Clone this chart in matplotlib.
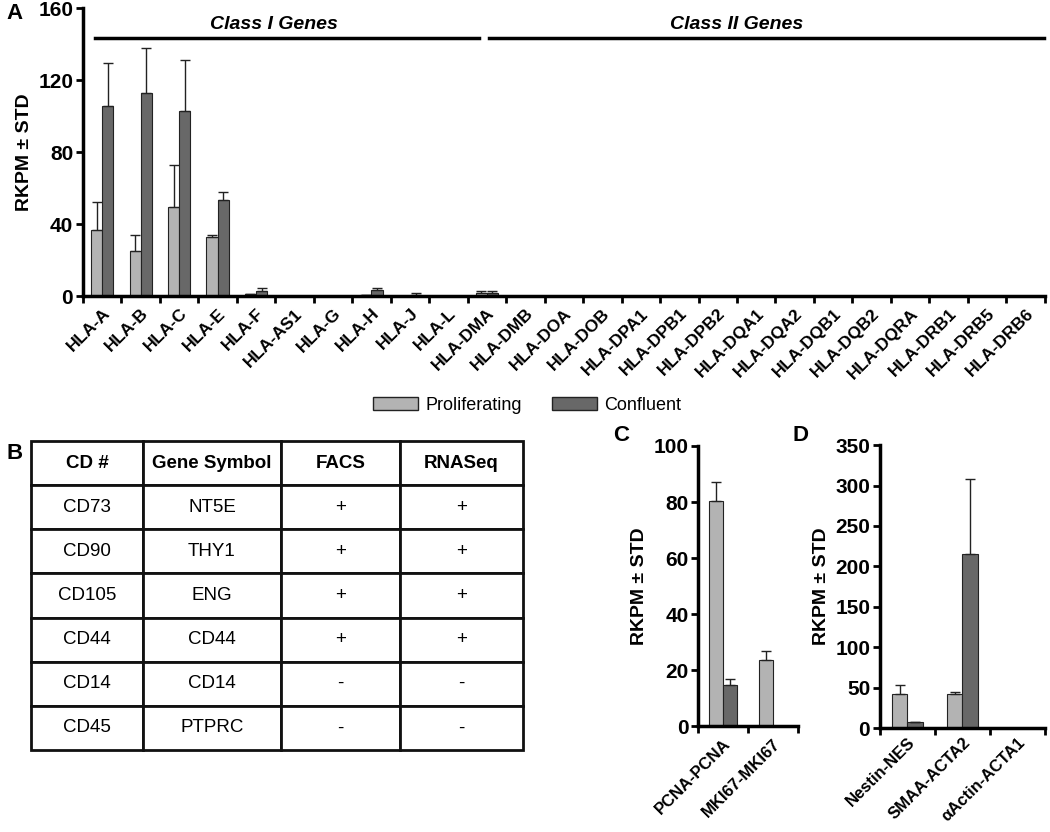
import numpy as np
import matplotlib
matplotlib.use('Agg')
import matplotlib.pyplot as plt
from matplotlib.patches import Patch

plt.rcParams['font.family'] = ['Liberation Sans', 'DejaVu Sans']

# ---- Panel A data ----
hla_genes = ['HLA-A', 'HLA-B', 'HLA-C', 'HLA-E', 'HLA-F', 'HLA-AS1', 'HLA-G', 'HLA-H',
             'HLA-J', 'HLA-L', 'HLA-DMA', 'HLA-DMB', 'HLA-DOA', 'HLA-DOB', 'HLA-DPA1',
             'HLA-DPB1', 'HLA-DPB2', 'HLA-DQA1', 'HLA-DQA2', 'HLA-DQB1', 'HLA-DQB2',
             'HLA-DQRA', 'HLA-DRB1', 'HLA-DRB5', 'HLA-DRB6']
hla_prolif = [36.7, 25.0, 49.4, 32.7, 1.1, 0, 0, 0.5, 0.3, 0, 1.5, 0, 0, 0, 0,
              0, 0, 0, 0, 0, 0, 0, 0, 0, 0]
hla_prolif_sd = [15.6, 9.0, 23.5, 1.4, 0, 0, 0, 0, 0, 0, 1.5, 0, 0, 0, 0,
                 0, 0, 0, 0, 0, 0, 0, 0, 0, 0]
hla_confl = [105.7, 112.8, 103.2, 53.2, 2.8, 0, 0, 3.3, 0.8, 0, 1.5, 0, 0, 0, 0,
             0, 0, 0, 0, 0, 0, 0, 0, 0, 0]
hla_confl_sd = [23.8, 25.2, 28.2, 4.5, 1.7, 0, 0, 1.5, 0.7, 0, 1.5, 0, 0, 0, 0,
                0, 0, 0, 0, 0, 0, 0, 0, 0, 0]

# ---- Panel B table ----
table_header = ['CD #', 'Gene Symbol', 'FACS', 'RNASeq']
cd_numbers = ['CD73', 'CD90', 'CD105', 'CD44', 'CD14', 'CD45']
gene_symbols = ['NT5E', 'THY1', 'ENG', 'CD44', 'CD14', 'PTPRC']
facs = ['+', '+', '+', '+', '-', '-']
rnaseq = ['+', '+', '+', '+', '-', '-']

# ---- Panel C data ----
c_genes = ['PCNA-PCNA', 'MKI67-MKI67']
c_prolif = [80.5, 23.5]
c_prolif_sd = [6.8, 3.5]
c_confl = [14.9, 0]
c_confl_sd = [2.0, 0]

# ---- Panel D data ----
d_genes = ['Nestin-NES', 'SMAA-ACTA2', 'αActin-ACTA1']
d_prolif = [42.4, 42.0, 0]
d_prolif_sd = [10.3, 2.0, 0]
d_confl = [7.8, 215.0, 0]
d_confl_sd = [0, 92.8, 0]

light = '#b3b3b3'
dark = '#686868'


def bar_panel(ax, labels, prolif, prolif_sd, confl, confl_sd, width, label_size, yticks):
    x = np.arange(len(labels))
    ekw = dict(ecolor='#222222', elinewidth=1, capthick=1)
    p_err = [np.zeros(len(x)), prolif_sd]
    c_err = [np.zeros(len(x)), confl_sd]
    ax.bar(x - width / 2, prolif, width, color=light, edgecolor='#222222', linewidth=0.8,
           yerr=p_err, capsize=3.5, error_kw=ekw)
    ax.bar(x + width / 2, confl, width, color=dark, edgecolor='#222222', linewidth=0.8,
           yerr=c_err, capsize=3.5, error_kw=ekw)
    ax.set_xlim(-0.5, len(labels) - 0.5)
    ax.set_ylim(yticks[0], yticks[-1])
    ax.set_yticks(yticks)
    ax.set_xticks(np.arange(len(labels) + 1) - 0.5)
    ax.set_xticklabels([])
    ax.set_xticks(x, minor=True)
    ax.set_xticklabels(labels, minor=True, rotation=45, ha='right', rotation_mode='anchor',
                       fontsize=label_size, fontweight='bold')
    ax.tick_params(axis='x', which='minor', length=0, pad=7)
    ax.tick_params(axis='x', which='major', length=5, width=2, direction='out')
    ax.tick_params(axis='y', length=5, width=2, direction='out', labelsize=15, pad=2)
    for lab in ax.get_yticklabels():
        lab.set_fontweight('bold')
    for s in ['top', 'right']:
        ax.spines[s].set_visible(False)
    for s in ['left', 'bottom']:
        ax.spines[s].set_linewidth(2.5)
    ax.set_ylabel('RKPM ± STD', fontsize=14, fontweight='bold')


fig = plt.figure(figsize=(10.5, 8.32), dpi=100)

# Panel A
axA = fig.add_axes([0.079, 0.644, 0.916, 0.346])
bar_panel(axA, hla_genes, hla_prolif, hla_prolif_sd, hla_confl, hla_confl_sd, 0.29, 12.5,
          [0, 40, 80, 120, 160])
axA.plot([-0.19, 9.79], [143.3, 143.3], color='black', lw=2.5, clip_on=False)
axA.plot([10.05, 24.49], [143.3, 143.3], color='black', lw=2.5, clip_on=False)
axA.text(4.46, 146.5, 'Class I Genes', ha='center', va='bottom', fontsize=14,
         fontweight='bold', style='italic')
axA.text(16.5, 146.5, 'Class II Genes', ha='center', va='bottom', fontsize=14,
         fontweight='bold', style='italic')

fig.legend(handles=[Patch(facecolor=light, edgecolor='#222222', label='Proliferating'),
                    Patch(facecolor=dark, edgecolor='#222222', label='Confluent')],
           loc='center', bbox_to_anchor=(0.502, 0.513), ncol=2, frameon=False,
           fontsize=13, handlelength=2.5, handleheight=0.7, handletextpad=0.4,
           columnspacing=1.65)

# Panel B table
axB = fig.add_axes([0.0295, 0.0986, 0.4686, 0.3714])
axB.axis('off')
cells = [table_header] + [list(r) for r in zip(cd_numbers, gene_symbols, facs, rnaseq)]
col_w = [112, 138, 119, 123]
col_w = [w / sum(col_w) for w in col_w]
tbl = axB.table(cellText=cells, cellLoc='center', colWidths=col_w, bbox=[0, 0, 1, 1])
tbl.auto_set_font_size(False)
for (r, c), cell in tbl.get_celld().items():
    cell.set_linewidth(2)
    cell.set_edgecolor('#111111')
    cell.get_text().set_fontsize(13.5)
    if r == 0:
        cell.get_text().set_fontweight('bold')

# Panel C
axC = fig.add_axes([0.665, 0.127, 0.095, 0.337])
bar_panel(axC, c_genes, c_prolif, c_prolif_sd, c_confl, c_confl_sd, 0.28, 12,
          [0, 20, 40, 60, 80, 100])

# Panel D
axD = fig.add_axes([0.838, 0.125, 0.157, 0.340])
bar_panel(axD, d_genes, d_prolif, d_prolif_sd, d_confl, d_confl_sd, 0.28, 12,
          [0, 50, 100, 150, 200, 250, 300, 350])
axD.tick_params(axis='x', which='minor', pad=5)

# panel letters
for letter, x, y in [('A', 0.006, 0.984), ('B', 0.006, 0.455), ('C', 0.584, 0.477),
                     ('D', 0.755, 0.477)]:
    fig.text(x, y, letter, fontsize=16, fontweight='bold', va='center')

fig.savefig('out.png', dpi=100)
